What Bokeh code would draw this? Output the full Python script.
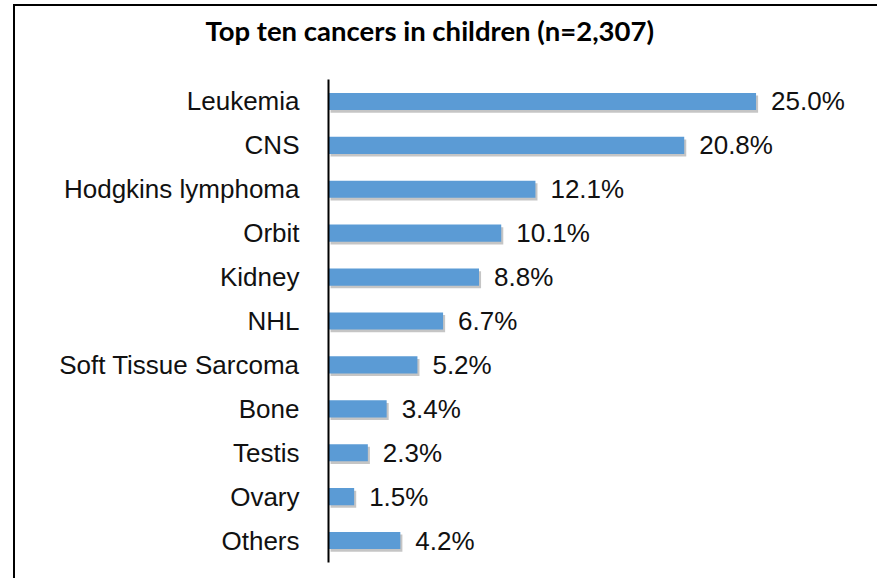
from bokeh.plotting import figure
from bokeh.layouts import column, row
from bokeh.models import ColumnDataSource, FactorRange, Title, Div
from bokeh.transform import dodge
from bokeh.embed import file_html
from bokeh.resources import INLINE

# Share of childhood cancer cases by site (n = 2,307)
cancers = ["Leukemia", "CNS", "Hodgkins lymphoma", "Orbit", "Kidney", "NHL",
           "Soft Tissue Sarcoma", "Bone", "Testis", "Ovary", "Others"]
percent = [25.0, 20.8, 12.1, 10.1, 8.8, 6.7, 5.2, 3.4, 2.3, 1.5, 4.2]
title_text = "Top ten cancers in children (n=2,307)"

source = ColumnDataSource(dict(
    cancer=cancers,
    pct=percent,
    pct_shadow=[v + 0.12 for v in percent],
    label=[f"{v:.1f}%" for v in percent],
))

p = figure(
    width=862, height=570,
    y_range=FactorRange(factors=cancers[::-1]),
    x_range=(0, 31.4),
    output_backend="svg", toolbar_location=None,
    x_axis_location=None,
    min_border_left=313, min_border_right=12,
    min_border_top=73, min_border_bottom=14,
)
p.outline_line_color = None
p.xgrid.grid_line_color = None
p.ygrid.grid_line_color = None
p.background_fill_color = "white"
p.border_fill_color = "white"

# soft drop shadow under each bar
p.hbar(y=dodge("cancer", -0.06, range=p.y_range), left=0.12, right="pct_shadow",
       height=0.39, source=source, fill_color="#6f6f6f", fill_alpha=0.4,
       line_color=None)
p.hbar(y="cancer", left=0, right="pct", height=0.39, source=source,
       fill_color="#5B9BD5", line_color=None)

p.text(x="pct", y="cancer", text="label", source=source,
       x_offset=15, text_align="left", text_baseline="middle",
       text_font={"value": "Liberation Sans"}, text_font_size="26px",
       text_color="#111111")

ax = p.yaxis[0]
ax.axis_line_color = "black"
ax.axis_line_width = 2
ax.major_tick_line_color = None
ax.minor_tick_line_color = None
ax.major_label_standoff = 23
ax.major_label_text_font = "Liberation Sans"
ax.major_label_text_font_size = "26px"
ax.major_label_text_color = "#111111"

# blank band between the heading and the plot area
p.add_layout(Title(text=" ", text_font_size="8px", standoff=13), "above")
p.add_layout(Title(
    text=title_text, align="left", offset=-123,
    vertical_align="top", standoff=14,
    text_font="Lato", text_font_style="bold", text_font_size="27.5px",
    text_color="black",
), "above")

# frame rules along the top and left edges
top_rule = Div(width=862, height=2, margin=0,
               styles={"background-color": "black"})
left_rule = Div(width=2, height=574, margin=0,
                styles={"background-color": "black"})

page = row(left_rule, column(top_rule, p, spacing=0), spacing=0,
           styles={"margin-left": "13px", "margin-top": "4px"})

open("out.html", "w").write(file_html(page, INLINE))
